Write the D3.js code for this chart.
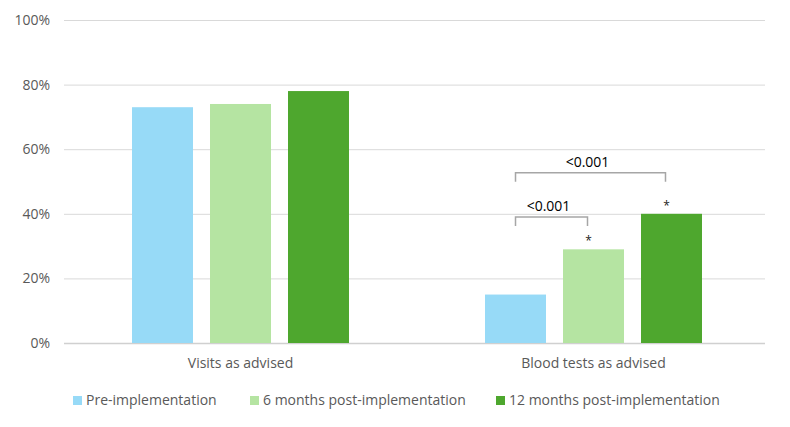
<!DOCTYPE html>
<html><head><meta charset="utf-8">
<script src="https://cdn.jsdelivr.net/npm/d3@7"></script>
<style>body{margin:0;background:#fff;} svg{display:block;}</style>
</head><body>
<svg id="chart" width="790" height="427"></svg>
<script>
const categories = ["Visits as advised", "Blood tests as advised"];
const seriesNames = ["Pre-implementation", "6 months post-implementation", "12 months post-implementation"];
const preValues = [73, 15];
const sixMonthValues = [74, 29];
const twelveMonthValues = [78, 40];
const yTicks = [0, 20, 40, 60, 80, 100];
const colors = ["#97daf7", "#b5e4a2", "#4ea72e"];
const seriesValues = [preValues, sixMonthValues, twelveMonthValues];
// significance annotations in category "Blood tests as advised"
const comparisons = [
  {category: 1, from: 0, to: 1, label: "<0.001", level: 39},
  {category: 1, from: 0, to: 2, label: "<0.001", level: 52.7}
];
const stars = [{category: 1, series: 1}, {category: 1, series: 2}];

const svg = d3.select("#chart");
const font = "'Open Sans', 'Noto Sans', sans-serif";
const W = 790, H = 427;
const plotLeft = 64, plotRight = 765, plotTop = 20, plotBottom = 343;
const x0 = d3.scaleBand().domain(categories).range([plotLeft, 770]).paddingInner(0).paddingOuter(0);
const x1 = d3.scaleBand().domain(seriesNames).range([0, x0.bandwidth()]).paddingInner(0.218).paddingOuter(0.872);
const y = d3.scaleLinear().domain([0, 100]).range([plotBottom, plotTop]);

// gridlines
const yAxis = d3.axisLeft(y).tickValues(yTicks).tickFormat(d => d + "%").tickSize(-(plotRight - plotLeft)).tickPadding(14);
const ga = svg.append("g").attr("transform", `translate(${plotLeft},0)`).call(yAxis);
ga.select(".domain").remove();
ga.selectAll(".tick line").attr("stroke", "#d9d9d9").attr("stroke-width", 1);
ga.selectAll(".tick text").attr("fill", "#595959").attr("font-size", 14).attr("font-family", font);
ga.selectAll(".tick").filter(d => d === 0).select("line").attr("stroke", "#d0d0d0").attr("stroke-width", 1.5);

// bars
const groups = svg.append("g").selectAll("g").data(categories).join("g")
  .attr("transform", d => `translate(${x0(d)},0)`);
groups.selectAll("rect").data((c, ci) => seriesNames.map((s, si) => ({s, si, v: seriesValues[si][ci]})))
  .join("rect")
  .attr("x", d => x1(d.s)).attr("width", x1.bandwidth())
  .attr("y", d => y(d.v)).attr("height", d => y(0) - y(d.v))
  .attr("fill", d => colors[d.si]);

// x axis labels
const xAxis = d3.axisBottom(x0).tickSize(0).tickPadding(15);
const gx = svg.append("g").attr("transform", `translate(0,${y(0)})`).call(xAxis);
gx.select(".domain").remove();
gx.selectAll(".tick text").attr("fill", "#595959").attr("font-size", 14).attr("font-family", font);

// brackets
const cx = (c, s) => x0(categories[c]) + x1(seriesNames[s]) + x1.bandwidth() / 2;
const ann = svg.append("g");
comparisons.forEach(cmp => {
  const xa = cx(cmp.category, cmp.from), xb = cx(cmp.category, cmp.to) - 6;
  const yt = y(cmp.level), yb = yt + 9;
  ann.append("path").attr("d", `M${xa},${yb}V${yt}H${xb}V${yb}`)
    .attr("fill", "none").attr("stroke", "#a6a6a6").attr("stroke-width", 1.5);
  ann.append("text").attr("x", (xa + xb) / 2 - 3).attr("y", yt - 6).attr("text-anchor", "middle")
    .attr("font-size", 14).attr("font-family", font).attr("fill", "#000").text(cmp.label);
});
stars.forEach(st => {
  const v = seriesValues[st.series][st.category];
  ann.append("text").attr("x", cx(st.category, st.series) - 5).attr("y", y(v) - 4)
    .attr("text-anchor", "middle").attr("font-size", 12).attr("font-family", font).attr("fill", "#222").text("*");
});

// legend
const legendX = [73, 250, 496];
const lg = svg.append("g");
seriesNames.forEach((s, i) => {
  lg.append("rect").attr("x", legendX[i]).attr("y", 396).attr("width", 9).attr("height", 9).attr("fill", colors[i]);
  lg.append("text").attr("x", legendX[i] + 13).attr("y", 400).attr("dy", "0.35em")
    .attr("font-size", 14).attr("font-family", font).attr("fill", "#595959").text(s);
});
</script>
</body></html>
